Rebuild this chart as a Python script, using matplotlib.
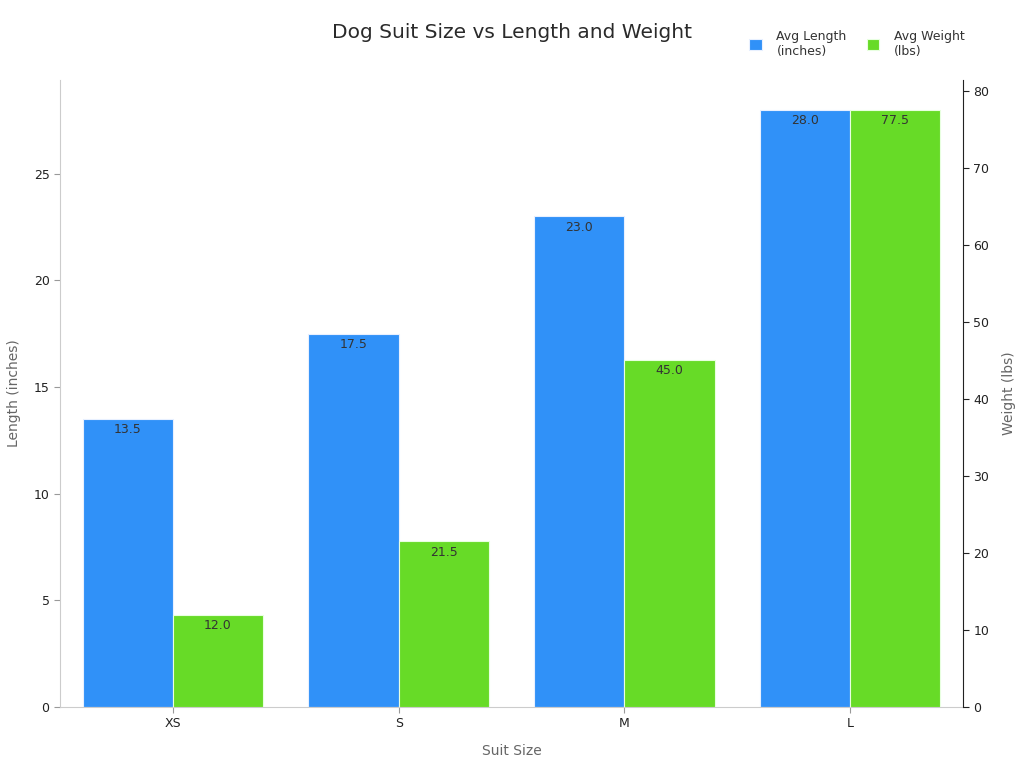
import matplotlib
matplotlib.use("Agg")
import matplotlib.pyplot as plt
import numpy as np

sizes = ["XS", "S", "M", "L"]
avg_length = [13.5, 17.5, 23.0, 28.0]
avg_weight = [12.0, 21.5, 45.0, 77.5]

blue = "#3091F8"
green = "#67DB27"

fig = plt.figure(figsize=(10.24, 7.68), dpi=100)
ax = fig.add_axes([60/1024, 1-707/768, (963-60)/1024, (707-80)/768])
ax2 = ax.twinx()

x = np.arange(len(sizes))
w = 0.4
b1 = ax.bar(x - w/2, avg_length, w, color=blue, edgecolor="#E8F0FF", linewidth=0.8, label="Avg Length\n(inches)")
b2 = ax2.bar(x + w/2, avg_weight, w, color=green, edgecolor="#E8FFE0", linewidth=0.8, label="Avg Weight\n(lbs)")

ax.set_xlim(-0.5, 3.5)
ax.set_ylim(0, max(avg_length) * 1.05)
ax2.set_ylim(0, max(avg_weight) * 1.05)

for rect, v in zip(b1, avg_length):
    ax.annotate(f"{v:.1f}", (rect.get_x() + rect.get_width()/2, rect.get_height()),
                xytext=(0, -3), textcoords="offset points", ha="center", va="top",
                fontsize=9, color="#333333")
for rect, v in zip(b2, avg_weight):
    ax2.annotate(f"{v:.1f}", (rect.get_x() + rect.get_width()/2, rect.get_height()),
                 xytext=(0, -3), textcoords="offset points", ha="center", va="top",
                 fontsize=9, color="#333333")

ax.set_xticks(x)
ax.set_xticklabels(sizes)
ax.set_yticks([0, 5, 10, 15, 20, 25])
ax2.set_yticks([0, 10, 20, 30, 40, 50, 60, 70, 80])

for a in (ax, ax2):
    a.spines["top"].set_visible(False)
ax.spines["left"].set_color("#CCCCCC")
ax.spines["bottom"].set_color("#CCCCCC")
ax.spines["right"].set_visible(False)
ax2.spines["left"].set_visible(False)
ax2.spines["bottom"].set_visible(False)
ax2.spines["right"].set_color("#222222")

ax.tick_params(axis="both", labelsize=9, colors="#222222", length=4)
ax.tick_params(axis="y", color="#999999")
ax.tick_params(axis="x", color="#999999")
ax2.tick_params(axis="y", labelsize=9, colors="#222222", length=4)

ax.set_xlabel("Suit Size", fontsize=10, color="#666666", labelpad=10)
ax.set_ylabel("Length (inches)", fontsize=10, color="#666666", labelpad=9)
ax2.set_ylabel("Weight (lbs)", fontsize=10, color="#666666", labelpad=9)

fig.text(512/1024, 1-33/768, "Dog Suit Size vs Length and Weight", ha="center", va="center",
         fontsize=14.5, color="#2a2a2a")

h1, l1 = ax.get_legend_handles_labels()
h2, l2 = ax2.get_legend_handles_labels()
fig.legend(h1 + h2, l1 + l2, loc="center", bbox_to_anchor=(857/1024, 1-44/768), ncol=2,
           frameon=False, fontsize=9, handlelength=1.0, handleheight=1.0,
           handletextpad=1.2, columnspacing=1.6, labelcolor="#333333")

fig.savefig("out.png", dpi=100)
